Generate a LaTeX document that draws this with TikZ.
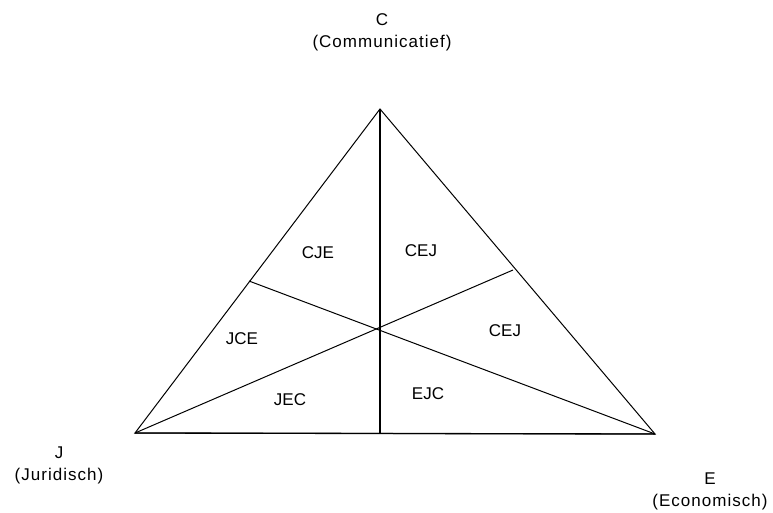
\documentclass[tikz,border=0pt]{standalone}
\usepackage{fontspec}
\setmainfont{Liberation Sans}
\usepackage{tikz}
\usetikzlibrary{calc,positioning}

\tikzset{
  region/.style={font=\fontsize{17}{19}\selectfont, inner sep=0pt},
  corner/.style={font=\fontsize{17}{19}\selectfont\addfontfeatures{LetterSpace=6}, inner sep=0pt, align=center},
  edge/.style={line width=1pt, line join=miter},
}

\begin{document}
\begin{tikzpicture}[x=1pt,y=-1pt]
  \useasboundingbox (0,0) rectangle (773,513);
  % vertices of the triangle, centre point and the points on the sides
  \coordinate (C) at (380,109);
  \coordinate (J) at (135,433);
  \coordinate (E) at (655,434);
  \coordinate (M) at (380,433);
  \coordinate (SL) at (249,281);
  \coordinate (SR) at (513,270);
  \draw[edge] (C) -- (J) -- (E) -- cycle;
  \draw[edge,line width=1.3pt] (J) -- (E);
  \draw[edge,line width=1.3pt] (C) -- (M);
  \draw[edge] (J) -- (SR);
  \draw[edge] (E) -- (SL);
  % corner labels
  \node[corner] (lc) at (382,32) {C\\[3pt](Communicatief)};
  \node[corner] (lj) at (59,465) {J\\[3pt](Juridisch)};
  \node[corner] (le) at (710,491) {E\\[3pt](Economisch)};
  % the six regions
  \node[region] (cje) at (318,253) {CJE};
  \node[region] (cej) at (421,251) {CEJ};
  \node[region] (jce) at (242,339) {JCE};
  \node[region] (cejb) at (505,331) {CEJ};
  \node[region] (jec) at (290,400) {JEC};
  \node[region] (ejc) at (428,394) {EJC};
\end{tikzpicture}
\end{document}
